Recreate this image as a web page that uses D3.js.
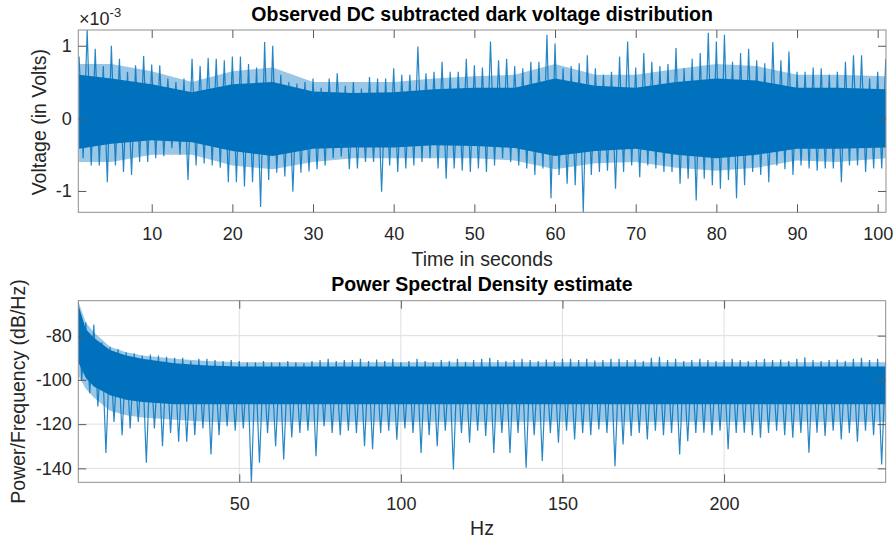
<!DOCTYPE html>
<html lang="en">
<head>
<meta charset="UTF-8" />
<title>Dark voltage and PSD</title>
<style>
  body { margin: 0; background: #fff; }
  svg text { font-family: "Liberation Sans", Arial, Helvetica, sans-serif; fill: #262626; }
  .title { font-weight: bold; fill: #000; }
</style>
<script src="https://d3js.org/d3.v7.min.js"></script>
</head>
<body>
<svg id="chart" width="893" height="545"></svg>
<script>
// ---- top panel: dark voltage (units of 1e-3 V) ----
// peak of each 1 s stretch, and the dip that follows it
const timeHi = [1, 2, 3, 4, 5, 6, 7, 8, 9, 10, 11, 12, 13, 14, 15, 16, 17, 18, 19, 20,
  21, 22, 23, 24, 25, 26, 27, 28, 29, 30, 31, 32, 33, 34, 35, 36, 37, 38, 39, 40,
  41, 42, 43, 44, 45, 46, 47, 48, 49, 50, 51, 52, 53, 54, 55, 56, 57, 58, 59, 60,
  61, 62, 63, 64, 65, 66, 67, 68, 69, 70, 71, 72, 73, 74, 75, 76, 77, 78, 79, 80,
  81, 82, 83, 84, 85, 86, 87, 88, 89, 90, 91, 92, 93, 94, 95, 96, 97, 98, 99, 100, 101];
const timeLo = [1.5, 2.5, 3.5, 4.5, 5.5, 6.5, 7.5, 8.5, 9.5, 10.5, 11.5, 12.5, 13.5, 14.5, 15.5, 16.5, 17.5, 18.5, 19.5, 20.5,
  21.5, 22.5, 23.5, 24.5, 25.5, 26.5, 27.5, 28.5, 29.5, 30.5, 31.5, 32.5, 33.5, 34.5, 35.5, 36.5, 37.5, 38.5, 39.5, 40.5,
  41.5, 42.5, 43.5, 44.5, 45.5, 46.5, 47.5, 48.5, 49.5, 50.5, 51.5, 52.5, 53.5, 54.5, 55.5, 56.5, 57.5, 58.5, 59.5, 60.5,
  61.5, 62.5, 63.5, 64.5, 65.5, 66.5, 67.5, 68.5, 69.5, 70.5, 71.5, 72.5, 73.5, 74.5, 75.5, 76.5, 77.5, 78.5, 79.5, 80.5,
  81.5, 82.5, 83.5, 84.5, 85.5, 86.5, 87.5, 88.5, 89.5, 90.5, 91.5, 92.5, 93.5, 94.5, 95.5, 96.5, 97.5, 98.5, 99.5, 100.5, 101.5];
const voltHi = [0.85, 1.22, 0.96, 0.72, 1.00, 0.82, 0.64, 0.73, 0.86, 0.74,
  0.73, 0.55, 0.50, 0.55, 0.82, 0.72, 0.83, 0.82, 0.80, 0.85,
  0.85, 0.75, 0.70, 1.05, 1.00, 0.60, 0.50, 0.48, 0.50, 0.55,
  0.42, 0.55, 0.62, 0.45, 0.50, 0.41, 0.57, 0.55, 0.55, 0.69,
  0.60, 0.60, 0.99, 0.62, 0.64, 0.78, 0.64, 0.64, 0.82, 0.73,
  0.70, 1.06, 0.80, 0.82, 0.72, 0.69, 0.78, 0.78, 1.15, 1.03,
  0.69, 0.72, 0.76, 0.87, 0.69, 0.60, 0.64, 0.85, 1.06, 0.70,
  0.90, 0.78, 0.72, 0.75, 0.97, 0.69, 0.82, 0.90, 1.18, 1.06,
  1.15, 0.78, 0.90, 0.96, 0.80, 0.76, 1.05, 0.80, 0.92, 0.64,
  0.64, 0.70, 0.69, 0.60, 0.64, 0.78, 0.87, 0.87, 0.55, 0.64, 0.82];
const voltLo = [-0.55, -0.65, -0.65, -0.88, -0.65, -0.74, -0.78, -0.60, -0.60, -0.55,
  -0.52, -0.41, -0.50, -0.85, -0.65, -0.62, -0.65, -0.68, -0.88, -0.88,
  -0.94, -0.88, -1.22, -0.85, -0.75, -0.80, -1.01, -0.75, -0.73, -0.70,
  -0.65, -0.55, -0.53, -0.70, -0.69, -0.60, -0.60, -1.01, -0.65, -0.74,
  -0.69, -0.65, -0.60, -0.55, -0.69, -0.83, -0.69, -0.72, -0.74, -0.69,
  -0.74, -0.65, -0.55, -0.60, -0.65, -0.69, -0.78, -0.69, -1.10, -0.78,
  -0.90, -0.92, -1.29, -0.78, -0.74, -0.72, -0.97, -0.74, -0.65, -0.81,
  -0.65, -0.69, -0.74, -0.74, -0.90, -0.83, -1.13, -0.83, -0.92, -0.97,
  -0.85, -1.10, -0.92, -0.74, -0.78, -0.88, -0.65, -0.70, -0.78, -0.65,
  -0.69, -0.72, -0.69, -0.69, -0.88, -0.65, -0.65, -0.74, -0.69, -0.69, -0.55];
// solid band and the denser fringe around it
const bandTime = [1, 5, 10, 15, 20, 25, 30, 35, 40, 45, 50, 55, 60, 65, 70, 75, 80, 85, 90, 95, 101];
const coreVoltHi = [0.60, 0.55, 0.47, 0.36, 0.47, 0.50, 0.37, 0.35, 0.36, 0.40, 0.42,
  0.42, 0.55, 0.45, 0.42, 0.50, 0.55, 0.52, 0.42, 0.42, 0.40];
const coreVoltLo = [-0.42, -0.35, -0.30, -0.33, -0.45, -0.52, -0.42, -0.40, -0.40, -0.37, -0.38,
  -0.41, -0.52, -0.45, -0.42, -0.50, -0.55, -0.50, -0.42, -0.42, -0.40];
const fringeVoltHi = [0.75, 0.75, 0.65, 0.50, 0.65, 0.70, 0.50, 0.50, 0.50, 0.55, 0.58,
  0.60, 0.75, 0.60, 0.60, 0.68, 0.75, 0.72, 0.60, 0.60, 0.58];
const fringeVoltLo = [-0.60, -0.60, -0.50, -0.50, -0.65, -0.70, -0.60, -0.55, -0.55, -0.55, -0.55,
  -0.58, -0.70, -0.62, -0.60, -0.68, -0.72, -0.68, -0.58, -0.60, -0.55];
const timeTicks = [10, 20, 30, 40, 50, 60, 70, 80, 90, 100];
const voltTicks = [-1, 0, 1];

// ---- bottom panel: PSD (dB/Hz), peak and dip of each 2.5 Hz stretch ----
const freqHi = [0.2, 2.5, 5, 7.5, 10, 12.5, 15, 17.5, 20, 22.5, 25, 27.5, 30, 32.5, 35, 37.5, 40, 42.5, 45, 47.5,
  50, 52.5, 55, 57.5, 60, 62.5, 65, 67.5, 70, 72.5, 75, 77.5, 80, 82.5, 85, 87.5, 90, 92.5, 95, 97.5,
  100, 102.5, 105, 107.5, 110, 112.5, 115, 117.5, 120, 122.5, 125, 127.5, 130, 132.5, 135, 137.5, 140, 142.5, 145, 147.5,
  150, 152.5, 155, 157.5, 160, 162.5, 165, 167.5, 170, 172.5, 175, 177.5, 180, 182.5, 185, 187.5, 190, 192.5, 195, 197.5,
  200, 202.5, 205, 207.5, 210, 212.5, 215, 217.5, 220, 222.5, 225, 227.5, 230, 232.5, 235, 237.5, 240, 242.5, 245, 247.5, 250];
const freqLo = [1.25, 3.75, 6.25, 8.75, 11.25, 13.75, 16.25, 18.75, 21.25, 23.75, 26.25, 28.75, 31.25, 33.75, 36.25, 38.75, 41.25, 43.75, 46.25, 48.75,
  51.25, 53.75, 56.25, 58.75, 61.25, 63.75, 66.25, 68.75, 71.25, 73.75, 76.25, 78.75, 81.25, 83.75, 86.25, 88.75, 91.25, 93.75, 96.25, 98.75,
  101.25, 103.75, 106.25, 108.75, 111.25, 113.75, 116.25, 118.75, 121.25, 123.75, 126.25, 128.75, 131.25, 133.75, 136.25, 138.75, 141.25, 143.75, 146.25, 148.75,
  151.25, 153.75, 156.25, 158.75, 161.25, 163.75, 166.25, 168.75, 171.25, 173.75, 176.25, 178.75, 181.25, 183.75, 186.25, 188.75, 191.25, 193.75, 196.25, 198.75,
  201.25, 203.75, 206.25, 208.75, 211.25, 213.75, 216.25, 218.75, 221.25, 223.75, 226.25, 228.75, 231.25, 233.75, 236.25, 238.75, 241.25, 243.75, 246.25, 248.75, 251.25];
const psdHi = [-64.5, -74, -75, -83, -85, -86, -87.5, -88, -89, -88.5,
  -89, -89.5, -90, -90, -91.5, -90.5, -90.5, -91, -91.5, -91,
  -91.5, -92, -92, -91.5, -92, -92, -91.5, -92, -92.5, -91.5,
  -91, -90.5, -91.5, -91, -91, -90.5, -91.5, -90.8, -91.5, -90.5,
  -92, -91.5, -90.5, -91.5, -92.2, -91, -91.5, -90.5, -91.8, -91,
  -90.5, -90, -91, -91.5, -91, -90.5, -91, -91.5, -90.8, -91.5,
  -90.5, -90.5, -91, -90.5, -91.2, -91, -90.5, -90.5, -91, -90.8,
  -91.5, -90, -89.5, -91, -90.5, -91.5, -91, -90.5, -91, -91.5,
  -91, -90.5, -91, -91.5, -91, -90.5, -91, -90.8, -91.5, -90.5,
  -89.8, -91, -91.5, -91, -90.8, -91.5, -90.5, -90, -91, -90.5, -91.5];
const psdLo = [-100, -106, -112, -133, -119, -125, -122, -119, -137.5, -122,
  -130, -124, -128, -128, -125, -122, -133.7, -125, -121, -123,
  -122, -146.5, -137.5, -124, -130, -136, -126, -124, -123, -134.5,
  -121, -124, -125, -123, -124, -130, -131.4, -124, -123, -127,
  -122, -124, -133, -125, -130, -123, -140.5, -124, -128.4, -123,
  -125.4, -133, -124, -133, -124, -139.7, -125, -136.7, -124, -128.4,
  -123, -126.9, -124, -125, -122.4, -124, -139, -129.2, -125.4, -124,
  -126.9, -123, -125, -124, -133.7, -127.7, -124, -123.9, -125, -123,
  -131.4, -124, -123.9, -125, -126.2, -124, -123, -125, -126.2, -124,
  -132.9, -123.9, -125.4, -123, -126.9, -124, -128, -123, -125, -138.2, -124];
const bandFreq = [0.2, 2.5, 5, 10, 15, 20, 30, 40, 50, 75, 100, 150, 200, 250];
const corePsdHi = [-66, -77, -81, -86.5, -89, -90.5, -92.5, -93.5, -94, -94, -94, -94, -94, -94];
const corePsdLo = [-92, -99, -103, -107, -109, -110, -111, -111, -111, -111, -111, -111, -111, -111];
const fringePsdHi = [-64.5, -74, -78.5, -85, -87.5, -89, -90.5, -91.5, -92, -92, -92, -92, -92, -92];
const fringePsdLo = [-98, -104, -108, -114, -116, -117, -118, -119, -119, -119, -119, -119, -119, -119];
const freqTicks = [50, 100, 150, 200];
const psdTicks = [-140, -120, -100, -80];

const svg = d3.select("#chart");
const blue = "#0072bd";

function drawPanel(p) {
  const x = d3.scaleLinear().domain(p.xDomain).range([p.left, p.right]);
  const y = d3.scaleLinear().domain(p.yDomain).range([p.bottom, p.top]);
  const g = svg.append("g");

  g.append("clipPath").attr("id", p.id + "-clip")
    .append("rect")
    .attr("x", p.left).attr("y", p.top)
    .attr("width", p.right - p.left).attr("height", p.bottom - p.top);

  if (p.grid) {
    g.append("g").selectAll("line").data(p.xTicks).join("line")
      .attr("x1", d => x(d)).attr("x2", d => x(d))
      .attr("y1", p.top).attr("y2", p.bottom)
      .attr("stroke", "#dfdfdf");
    g.append("g").selectAll("line").data(p.yTicks).join("line")
      .attr("y1", d => y(d)).attr("y2", d => y(d))
      .attr("x1", p.left).attr("x2", p.right)
      .attr("stroke", "#dfdfdf");
  }

  const plot = g.append("g").attr("clip-path", `url(#${p.id}-clip)`);
  const band = d3.area().x(d => x(d.x)).y0(d => y(d.lo)).y1(d => y(d.hi));

  // dense fringe
  plot.append("path")
    .datum(p.bandX.map((v, i) => ({ x: v, hi: p.fringeHi[i], lo: p.fringeLo[i] })))
    .attr("fill", blue).attr("fill-opacity", 0.4)
    .attr("d", band);

  // solid band
  plot.append("path")
    .datum(p.bandX.map((v, i) => ({ x: v, hi: p.coreHi[i], lo: p.coreLo[i] })))
    .attr("fill", blue)
    .attr("d", band);

  // trace swinging between the peaks and dips
  const pts = p.xHi.flatMap((v, i) => [[v, p.hi[i]], [p.xLo[i], p.lo[i]]]);
  plot.append("path")
    .datum(pts)
    .attr("fill", "none")
    .attr("stroke", blue)
    .attr("stroke-width", 1.2)
    .attr("stroke-opacity", 0.85)
    .attr("stroke-linejoin", "bevel")
    .attr("d", d3.line().x(d => x(d[0])).y(d => y(d[1])));

  // box
  g.append("rect")
    .attr("x", p.left).attr("y", p.top)
    .attr("width", p.right - p.left).attr("height", p.bottom - p.top)
    .attr("fill", "none").attr("stroke", "#8f8f8f");

  const tickStyle = sel => {
    sel.select(".domain").remove();
    sel.selectAll(".tick line").attr("stroke", "#5a5a5a");
    sel.selectAll("text").attr("font-size", null).style("font-size", "18px");
  };
  g.append("g").attr("transform", `translate(0,${p.bottom})`)
    .call(d3.axisBottom(x).tickValues(p.xTicks).tickSize(-8).tickPadding(14.8).tickFormat(d => String(d)))
    .call(tickStyle);
  g.append("g").attr("transform", `translate(0,${p.top})`)
    .call(d3.axisTop(x).tickValues(p.xTicks).tickSize(-8).tickFormat(""))
    .call(tickStyle);
  g.append("g").attr("transform", `translate(${p.left},0)`)
    .call(d3.axisLeft(y).tickValues(p.yTicks).tickSize(-8).tickPadding(6.5).tickFormat(d => String(d)))
    .call(tickStyle);
  g.append("g").attr("transform", `translate(${p.right},0)`)
    .call(d3.axisRight(y).tickValues(p.yTicks).tickSize(-8).tickFormat(""))
    .call(tickStyle);

  const cx = (p.left + p.right) / 2;
  g.append("text").attr("class", "title")
    .attr("x", cx).attr("y", p.top - 9.5)
    .attr("text-anchor", "middle").style("font-size", "19.5px")
    .text(p.title);
  g.append("text")
    .attr("x", cx).attr("y", p.bottom + p.xLabelOffset)
    .attr("text-anchor", "middle").style("font-size", "19.5px")
    .text(p.xLabel);
  g.append("text")
    .attr("transform", `translate(${p.yLabelX},${(p.top + p.bottom) / 2 + p.yLabelShift}) rotate(-90)`)
    .attr("text-anchor", "middle").style("font-size", "19.5px")
    .text(p.yLabel);
}

drawPanel({
  id: "volt", left: 78.3, right: 886, top: 30, bottom: 212.3,
  xDomain: [0.9, 101.03], yDomain: [-1.294, 1.217],
  xTicks: timeTicks, yTicks: voltTicks,
  xHi: timeHi, xLo: timeLo, hi: voltHi, lo: voltLo,
  bandX: bandTime, coreHi: coreVoltHi, coreLo: coreVoltLo,
  fringeHi: fringeVoltHi, fringeLo: fringeVoltLo,
  grid: false,
  title: "Observed DC subtracted dark voltage distribution",
  xLabel: "Time in seconds", xLabelOffset: 53.5,
  yLabel: "Voltage (in Volts)", yLabelX: 46, yLabelShift: 1
});

drawPanel({
  id: "psd", left: 78.3, right: 885.7, top: 300.7, bottom: 482.3,
  xDomain: [0.2, 250], yDomain: [-146.3, -64.2],
  xTicks: freqTicks, yTicks: psdTicks,
  xHi: freqHi, xLo: freqLo, hi: psdHi, lo: psdLo,
  bandX: bandFreq, coreHi: corePsdHi, coreLo: corePsdLo,
  fringeHi: fringePsdHi, fringeLo: fringePsdLo,
  grid: true,
  title: "Power Spectral Density estimate",
  xLabel: "Hz", xLabelOffset: 52.7,
  yLabel: "Power/Frequency (dB/Hz)", yLabelX: 25, yLabelShift: 0
});

// exponent label of the voltage axis
const expo = svg.append("text").attr("x", 79).attr("y", 25).style("font-size", "18px");
expo.append("tspan").text("\u00d710");
expo.append("tspan").attr("dy", -8).style("font-size", "13px").text("-3");
</script>
</body>
</html>
